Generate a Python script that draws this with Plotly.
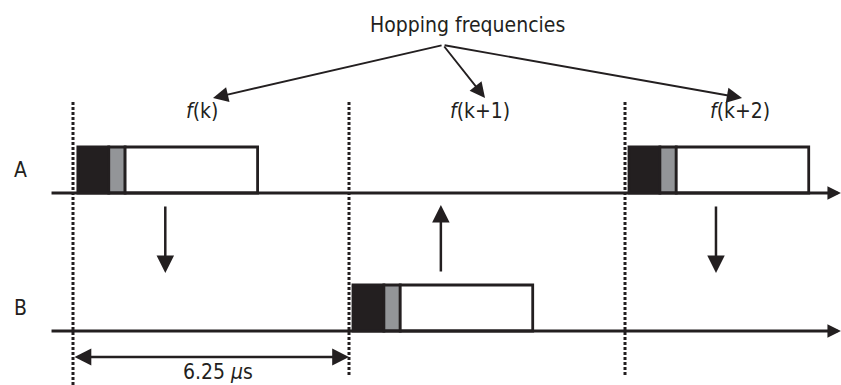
import plotly.graph_objects as go

# ---------------- data (time axis in microseconds) ----------------
slot_us = 6.25
slot_bounds = [0.0, 6.25, 12.5]
dotted_bottom = [385, 377, 377]          # lower end of each slot boundary marker

burst_rows = ["A", "B", "A"]
burst_starts = [0.11, 6.34, 12.59]       # us
access_code_us = 0.70
header_us = 0.37
payload_us = 3.0

hop_labels = ["<i>f</i>(k)", "<i>f</i>(k+1)", "<i>f</i>(k+2)"]
hop_label_x = [2.92, 9.22, 15.10]
hop_arrow_tip_x = [3.17, 9.33, 15.15]
hop_source_x = 8.38
hop_title = "Hopping frequencies"

transfer_x = [2.09, 8.33, 14.56]
transfer_dir = ["down", "up", "down"]

row_names = ["A", "B"]
row_base = {"A": 193, "B": 331}          # baseline (pixel-like vertical units, top = 0)
box_h = 46

slot_label = "6.25 <i>μ</i>s"

# ---------------- figure ----------------
FONT = "DejaVu Sans Condensed, Liberation Sans Narrow, sans-serif"
FS = 21
INK = "#231f20"
fig = go.Figure()
shapes = []
ann = []

# slot boundary dotted lines
for xb, yb in zip(slot_bounds, dotted_bottom):
    shapes.append(dict(type="line", xref="x", yref="y", x0=xb, x1=xb, y0=102, y1=yb,
                       line=dict(color=INK, width=3, dash="3px,2px")))

# time axes with arrowheads
for r in row_names:
    yb = row_base[r]
    ann.append(dict(x=17.39, y=yb, ax=-0.52, ay=yb, xref="x", yref="y", axref="x", ayref="y",
                    text="", showarrow=True, arrowhead=2, arrowsize=0.9, arrowwidth=3,
                    arrowcolor=INK, standoff=0, startstandoff=0))
    ann.append(dict(x=-1.2, y=yb - 23, xref="x", yref="y", text=r, showarrow=False,
                    font=dict(family=FONT, size=FS, color=INK)))

# bursts
for r, s in zip(burst_rows, burst_starts):
    yb = row_base[r]
    segs = [(s, s + access_code_us, INK),
            (s + access_code_us, s + access_code_us + header_us, "#939598"),
            (s + access_code_us + header_us, s + access_code_us + header_us + payload_us, "white")]
    for x0, x1, c in segs:
        shapes.append(dict(type="rect", xref="x", yref="y", x0=x0, x1=x1, y0=yb - box_h, y1=yb,
                           fillcolor=c, line=dict(color=INK, width=2.8)))

# transfer arrows between rows
for xv, d in zip(transfer_x, transfer_dir):
    top, bot = 205, 273
    if d == "down":
        tip, tail = bot, top
    else:
        tip, tail = top, bot
    ann.append(dict(x=xv, y=tip, ax=xv, ay=tail, xref="x", yref="y", axref="x", ayref="y",
                    text="", showarrow=True, arrowhead=2, arrowsize=1.4, arrowwidth=2.5,
                    arrowcolor=INK, standoff=0))

# hopping frequency labels and arrows
ann.append(dict(x=hop_source_x + 0.55, y=25, xref="x", yref="y", text=hop_title, showarrow=False,
                font=dict(family=FONT, size=FS, color=INK)))
for lab, lx, tx in zip(hop_labels, hop_label_x, hop_arrow_tip_x):
    ann.append(dict(x=lx, y=111, xref="x", yref="y", text=lab, showarrow=False,
                    font=dict(family=FONT, size=FS, color=INK)))
    ann.append(dict(x=tx, y=98, ax=hop_source_x, ay=45, xref="x", yref="y", axref="x", ayref="y",
                    text="", showarrow=True, arrowhead=2, arrowsize=1.6, arrowwidth=1.9,
                    arrowcolor=INK, standoff=0))

# slot duration dimension
ann.append(dict(x=slot_bounds[1], y=357, ax=slot_bounds[0], ay=357, xref="x", yref="y",
                axref="x", ayref="y", text="", showarrow=True, arrowhead=2, startarrowhead=2,
                arrowside="end+start", arrowsize=1.4, startarrowsize=1.4, arrowwidth=2.4,
                arrowcolor=INK, standoff=0, startstandoff=0))
ann.append(dict(x=slot_us / 2 + 0.16, y=372, xref="x", yref="y", text=slot_label, showarrow=False,
                font=dict(family=FONT, size=FS, color=INK)))

fig.update_layout(
    width=841, height=385,
    margin=dict(l=0, r=0, t=0, b=0),
    paper_bgcolor="white", plot_bgcolor="white",
    showlegend=False,
    xaxis=dict(range=[-1.653, 17.391], visible=False, showgrid=False, zeroline=False, fixedrange=True),
    yaxis=dict(range=[385, 0], visible=False, showgrid=False, zeroline=False, fixedrange=True),
    shapes=shapes, annotations=ann,
)
fig.write_html("out.html", config={"displayModeBar": False},
               post_script="document.body.style.margin='0';document.body.style.overflow='hidden';")
